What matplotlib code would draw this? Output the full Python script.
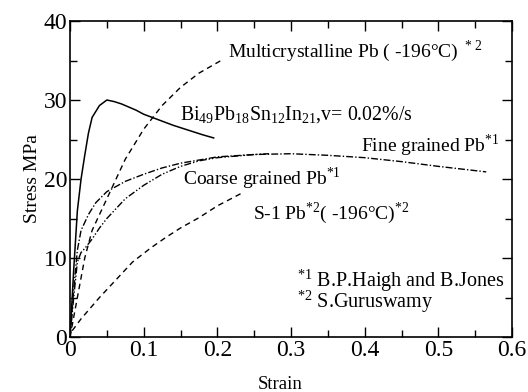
import matplotlib.pyplot as plt
from matplotlib.ticker import MultipleLocator

plt.rcParams['font.family'] = ['Liberation Serif', 'DejaVu Serif']
plt.rcParams['mathtext.fontset'] = 'custom'
plt.rcParams['mathtext.rm'] = 'Liberation Serif'

# Bi49Pb18Sn12In21 (solid)
bi_strain = [0, 0.005, 0.01, 0.015, 0.02, 0.025, 0.03, 0.04, 0.05, 0.06, 0.07,
             0.08, 0.09, 0.1, 0.12, 0.14, 0.16, 0.18, 0.195]
bi_stress = [0, 8.5, 16, 20, 23, 25.8, 27.8, 29.3, 30, 29.8, 29.5,
             29.1, 28.7, 28.2, 27.5, 26.8, 26.2, 25.6, 25.2]

# Multicrystalline Pb (-196C) (dashed)
mc_strain = [0, 0.01, 0.02, 0.03, 0.05, 0.075, 0.1, 0.125, 0.15, 0.175, 0.205]
mc_stress = [0, 5, 10, 13.5, 17.5, 22.5, 26.3, 29.3, 31.6, 33.4, 35]

# S-1 Pb (-196C) (dashed)
s1_strain = [0.003, 0.015, 0.04, 0.06, 0.085, 0.11, 0.13, 0.15, 0.175, 0.2, 0.235]
s1_stress = [0.8, 2.3, 5, 7, 9.5, 11.3, 12.6, 13.8, 15.1, 16.6, 18.3]

# Fine grained Pb (dash-dot)
fine_strain = [0, 0.005, 0.01, 0.015, 0.025, 0.035, 0.05, 0.075, 0.1, 0.125, 0.15,
               0.2, 0.25, 0.3, 0.35, 0.4, 0.45, 0.5, 0.565]
fine_stress = [0, 6, 11, 13.5, 15.5, 17, 18.4, 19.7, 20.6, 21.4, 22,
               22.8, 23.1, 23.2, 23, 22.7, 22.2, 21.6, 20.9]

# Coarse grained Pb (dash-dot-dot)
coarse_strain = [0, 0.005, 0.01, 0.015, 0.02, 0.03, 0.04, 0.05, 0.075, 0.1, 0.125,
                 0.15, 0.175, 0.2, 0.25, 0.27]
coarse_stress = [0, 5, 9.5, 10.7, 11.2, 12.4, 13.8, 15, 17.5, 19.2, 20.6,
                 21.6, 22.3, 22.7, 23.1, 23.2]

fig = plt.figure(figsize=(5.28, 3.92), dpi=100)
ax = fig.add_axes([0.1326, 0.1403, 0.8371, 0.8061])

ax.plot(bi_strain, bi_stress, color='black', lw=1.1)
ax.plot(mc_strain, mc_stress, color='black', lw=1.0, dashes=(4, 3))
ax.plot(s1_strain, s1_stress, color='black', lw=1.0, dashes=(4, 3))
ax.plot(fine_strain, fine_stress, color='black', lw=1.0, dashes=(5, 1.5, 1, 1.5))
ax.plot(coarse_strain, coarse_stress, color='black', lw=1.0,
        dashes=(5, 1.5, 1, 1.5, 1, 1.5))

ax.set_xlim(0, 0.6)
ax.set_ylim(0, 40)
ax.xaxis.set_major_locator(MultipleLocator(0.1))
ax.xaxis.set_minor_locator(MultipleLocator(0.05))
ax.yaxis.set_major_locator(MultipleLocator(10))
ax.yaxis.set_minor_locator(MultipleLocator(5))
ax.set_xticks([0, 0.1, 0.2, 0.3, 0.4, 0.5, 0.6])
ax.set_xticklabels(['0', '0.1', '0.2', '0.3', '0.4', '0.5', '0.6'])
ax.tick_params(which='both', direction='in', top=True, right=True,
               labelsize=17, width=1, pad=2)
ax.tick_params(which='major', length=7)
ax.tick_params(which='minor', length=5)
for s in ax.spines.values():
    s.set_linewidth(1.2)

ax.set_xlabel('Strain', fontsize=13.5)
ax.xaxis.set_label_coords(0.475, -0.122)
ax.set_ylabel('Stress MPa', fontsize=14, labelpad=2)

fs = 14
ax.text(0.214, 36.2, r'Multicrystalline Pb ( -196°C)$^{\ *2}$', fontsize=fs, va='center')
ax.text(0.149, 28.2, r'Bi$_{49}$Pb$_{18}$Sn$_{12}$In$_{21}$,v= 0.02%/s', fontsize=14.3, va='center')
ax.text(0.395, 24.2, r'Fine grained Pb$^{*1}$', fontsize=fs, va='center')
ax.text(0.154, 20.1, r'Coarse grained Pb$^{*1}$', fontsize=fs, va='center')
ax.text(0.248, 15.7, r'S-1 Pb$^{*2}$( -196°C)$^{*2}$', fontsize=fs, va='center')
ax.text(0.308, 7.2, r'$^{*1}$ B.P.Haigh and B.Jones', fontsize=14.5, va='center')
ax.text(0.308, 4.5, r'$^{*2}$ S.Guruswamy', fontsize=14.5, va='center')

fig.savefig('out.png', dpi=100)
